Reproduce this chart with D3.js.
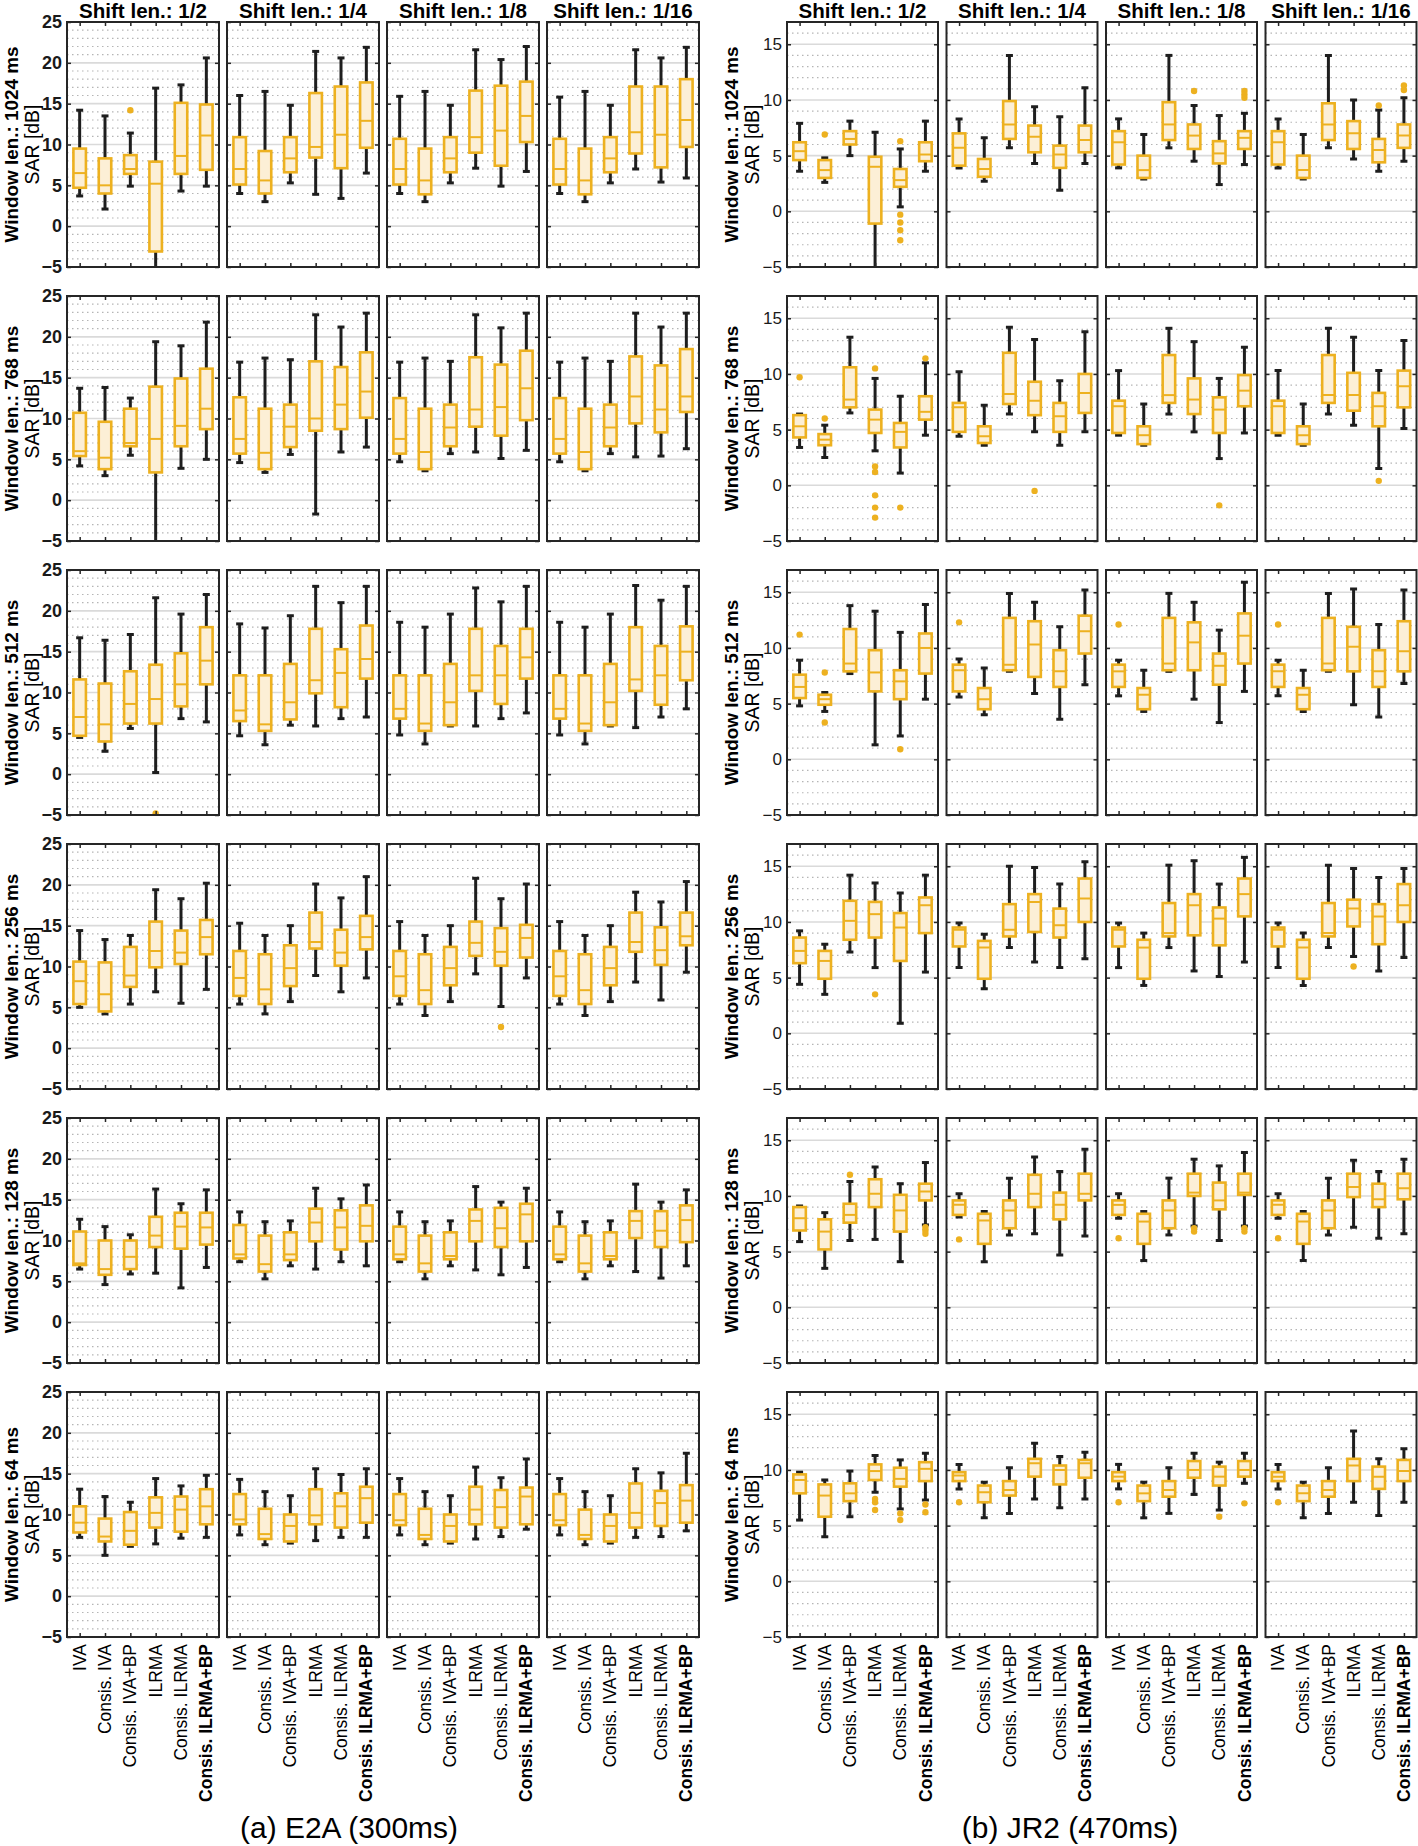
<!DOCTYPE html>
<html>
<head>
<meta charset="utf-8">
<script src="https://cdn.jsdelivr.net/npm/d3@7"></script>
<style>
  body { margin: 0; background: #fff; }
  svg { display: block; }
  text { font-family: "Liberation Sans", Arial, sans-serif; }
</style>
</head>
<body>
<div id="chart"></div>
<script>
const windowLens = ["1024", "768", "512", "256", "128", "64"];
const shiftLens = ["1/2", "1/4", "1/8", "1/16"];
const methods = ["IVA", "Consis. IVA", "Consis. IVA+BP", "ILRMA", "Consis. ILRMA", "Consis. ILRMA+BP"];
const captions = ["(a) E2A (300ms)", "(b) JR2 (470ms)"];
const yTicksE2A = [-5, 0, 5, 10, 15, 20, 25];
const yTicksJR2 = [-5, 0, 5, 10, 15];

// [lower whisker, q1, median, q3, upper whisker]; rows = window len., cols = shift len.
const e2aBoxes = [
  [
    [[3.7,4.7,6.5,9.5,14.2],[2.1,4.0,5.0,8.3,13.5],[4.9,6.4,7.0,8.7,11.4],[-6,-3.1,5.2,7.9,16.9],[4.3,6.4,8.6,15.1,17.3],[4.9,6.9,11.1,14.9,20.6]],
    [[4.0,5.1,7.0,10.9,16.0],[3.0,4.0,5.6,9.2,16.5],[5.3,6.6,8.3,10.9,14.8],[3.9,8.4,9.7,16.3,21.4],[3.4,7.1,11.2,17.1,20.6],[6.5,9.6,12.9,17.6,21.9]],
    [[4.0,5.1,7.0,10.7,15.9],[3.0,3.9,5.6,9.5,16.5],[5.3,6.6,8.3,10.9,14.8],[7.1,9.0,10.9,16.6,21.6],[4.9,7.4,11.7,17.2,20.4],[6.7,10.3,13.5,17.7,22.0]],
    [[4.0,5.1,7.0,10.7,15.8],[3.0,3.9,5.6,9.5,16.5],[5.3,6.6,8.3,10.9,14.8],[7.0,8.9,11.5,17.1,21.6],[5.4,7.2,11.2,17.1,20.6],[5.9,9.7,13.0,18.0,21.9]]
  ],
  [
    [[4.2,5.4,6.0,10.7,13.7],[3.0,3.8,5.2,9.6,13.8],[5.5,6.6,7.0,11.2,12.5],[-6,3.4,7.5,13.9,19.4],[3.9,6.6,9.1,14.9,18.9],[5.0,8.7,11.2,16.1,21.8]],
    [[4.6,5.7,7.5,12.6,16.9],[3.4,3.8,5.8,11.2,17.4],[5.6,6.5,9.0,11.7,17.2],[-1.7,8.5,10.0,17.0,22.7],[5.9,8.7,11.7,16.3,21.2],[6.5,10.1,13.3,18.1,22.9]],
    [[4.7,5.7,7.5,12.5,16.9],[3.6,3.8,5.9,11.2,17.4],[5.7,6.6,8.9,11.7,17.0],[5.9,9.0,11.1,17.5,22.7],[5.1,7.9,11.4,16.6,21.1],[6.1,9.8,13.7,18.3,22.9]],
    [[4.7,5.7,7.5,12.5,16.9],[3.6,3.8,5.9,11.2,17.4],[5.7,6.6,8.9,11.7,17.0],[5.3,9.4,12.7,17.6,22.9],[5.4,8.3,11.1,16.5,21.2],[6.3,10.8,12.7,18.5,22.9]]
  ],
  [
    [[4.5,4.7,7.0,11.6,16.7],[2.8,4.0,6.1,11.1,16.4],[5.6,6.2,8.6,12.6,17.1],[0.2,6.2,9.2,13.4,21.6],[6.8,8.3,11.0,14.8,19.6],[6.4,11.0,13.9,18.0,22.0]],
    [[4.7,6.5,7.8,12.1,18.4],[3.6,5.3,6.1,12.1,17.9],[6.0,6.7,8.8,13.5,19.4],[5.9,9.9,11.5,17.8,23.0],[6.8,8.2,12.4,15.3,21.0],[7.0,11.7,14.1,18.2,23.0]],
    [[4.8,6.8,8.0,12.1,18.6],[3.7,5.3,6.2,12.1,18.0],[5.9,6.0,8.8,13.5,19.6],[5.9,10.2,12.1,17.8,22.8],[6.8,8.6,12.1,15.7,21.1],[7.5,11.7,14.3,17.8,23.0]],
    [[4.8,6.8,8.0,12.1,18.6],[3.7,5.3,6.2,12.1,18.0],[5.9,6.0,8.8,13.5,19.6],[5.7,10.2,11.6,18.0,23.1],[7.0,8.5,12.1,15.7,21.3],[8.0,11.5,15.0,18.1,23.0]]
  ],
  [
    [[5.0,5.4,8.2,10.6,14.4],[4.2,4.5,6.6,10.5,13.3],[5.4,7.5,8.9,12.4,13.8],[6.9,9.9,11.9,15.5,19.4],[5.5,10.3,11.7,14.4,18.3],[7.2,11.5,13.6,15.7,20.2]],
    [[5.4,6.4,8.6,11.9,15.3],[4.2,5.4,7.2,11.5,13.8],[5.7,7.6,9.8,12.6,15.0],[8.9,12.2,13.0,16.6,20.1],[6.9,10.1,11.7,14.5,18.4],[8.6,12.1,13.6,16.2,21.0]],
    [[5.4,6.4,8.8,11.9,15.5],[4.0,5.4,7.1,11.5,13.8],[5.7,7.7,9.8,12.4,15.0],[9.1,11.3,12.9,15.5,20.8],[5.1,10.1,11.8,14.7,18.3],[8.6,11.1,13.5,15.1,20.1]],
    [[5.4,6.4,8.8,11.9,15.5],[4.0,5.4,7.1,11.5,13.8],[5.7,7.7,9.8,12.4,15.0],[8.1,11.8,13.0,16.6,19.1],[5.9,10.2,12.0,14.8,17.9],[9.3,12.6,13.7,16.6,20.4]]
  ],
  [
    [[6.5,7.0,7.2,11.1,12.6],[4.6,5.8,6.5,10.0,11.7],[5.9,6.5,8.0,10.0,10.7],[6.0,9.2,10.6,12.9,16.3],[4.2,9.0,11.7,13.4,14.5],[6.7,9.5,11.6,13.4,16.2]],
    [[7.4,7.8,8.3,11.9,13.5],[5.3,6.2,7.1,10.6,12.3],[6.9,7.6,8.3,11.0,12.4],[6.5,9.9,12.2,13.9,16.4],[7.4,8.9,11.6,13.7,15.1],[6.9,9.9,11.8,14.3,16.8]],
    [[7.4,7.7,8.3,11.7,13.5],[5.3,6.2,7.2,10.6,12.3],[6.9,7.7,8.1,11.0,12.4],[6.4,9.9,12.4,13.8,16.6],[5.8,9.2,11.5,14.0,14.7],[6.7,9.9,13.2,14.5,16.4]],
    [[7.4,7.7,8.3,11.7,13.5],[5.3,6.2,7.2,10.6,12.3],[6.9,7.7,8.1,11.0,12.4],[6.2,10.3,12.4,13.6,16.9],[5.4,9.2,11.2,13.6,14.7],[6.9,9.8,12.5,14.3,16.2]]
  ],
  [
    [[7.2,7.8,9.0,11.0,13.1],[5.0,6.7,7.3,9.5,12.2],[6.1,6.3,8.0,10.3,11.5],[6.4,8.4,10.2,12.1,14.4],[7.1,7.9,10.6,12.2,13.5],[7.2,8.8,11.0,13.1,14.8]],
    [[7.5,8.8,9.4,12.5,14.3],[6.3,7.0,7.6,10.7,12.8],[6.5,6.7,8.6,10.0,12.3],[6.8,8.8,9.9,13.1,15.6],[7.2,8.4,11.0,12.6,14.9],[7.2,9.0,12.0,13.4,15.6]],
    [[7.5,8.7,9.3,12.5,14.4],[6.3,7.0,7.5,10.7,12.8],[6.5,6.7,8.6,10.0,12.3],[7.0,8.8,10.6,13.4,15.8],[7.3,8.4,10.9,13.0,14.5],[8.2,8.8,12.2,13.3,16.8]],
    [[7.5,8.7,9.3,12.5,14.4],[6.3,7.0,7.5,10.6,12.8],[6.5,6.7,8.6,10.0,12.3],[7.2,8.4,10.2,13.8,15.6],[7.3,8.6,11.4,12.9,15.1],[8.0,9.0,11.7,13.6,17.5]]
  ]
];

const jr2Boxes = [
  [
    [[3.6,4.6,5.4,6.2,7.9],[2.6,3.0,3.7,4.6,4.8],[5.0,6.0,6.5,7.2,8.1],[-6,-1.1,4.0,4.9,7.1],[0.4,2.2,2.8,3.8,5.6],[3.6,4.5,5.1,6.2,8.1]],
    [[3.9,4.1,5.7,7.0,8.3],[2.7,3.1,3.8,4.7,6.6],[5.7,6.5,7.8,9.9,14.0],[4.3,5.3,6.7,7.7,9.4],[1.9,3.9,5.1,5.9,8.5],[4.3,5.3,6.4,7.7,11.1]],
    [[3.9,4.2,6.2,7.2,8.3],[2.9,3.0,3.7,5.0,6.9],[5.7,6.4,7.8,9.8,14.0],[4.5,5.6,6.8,7.8,9.5],[2.4,4.3,5.2,6.3,8.6],[4.2,5.6,6.6,7.2,8.8]],
    [[3.9,4.2,6.2,7.2,8.3],[2.9,3.0,3.7,5.0,6.9],[5.7,6.4,7.8,9.7,14.0],[4.7,5.6,7.0,8.1,10.0],[3.6,4.4,5.5,6.5,9.1],[4.5,5.7,6.8,7.8,10.2]]
  ],
  [
    [[3.4,4.3,5.3,6.3,6.4],[2.5,3.6,4.1,4.6,5.4],[6.5,7.0,7.7,10.6,13.3],[3.1,4.7,5.9,6.8,9.6],[1.1,3.4,4.8,5.6,8.0],[4.5,5.9,6.6,8.0,11.0]],
    [[4.4,4.8,7.0,7.4,10.2],[3.6,3.8,4.4,5.3,7.2],[6.4,7.3,8.2,11.9,14.2],[4.8,6.3,7.6,9.3,13.1],[3.6,4.8,6.2,7.4,9.4],[4.8,6.5,8.3,10.0,13.8]],
    [[4.5,4.7,7.1,7.6,10.3],[3.6,3.7,4.5,5.3,7.3],[6.4,7.4,8.1,11.7,14.1],[4.8,6.4,7.7,9.6,12.9],[2.4,4.7,6.8,7.9,9.6],[4.7,7.1,8.5,9.9,12.4]],
    [[4.5,4.7,7.1,7.6,10.3],[3.6,3.7,4.5,5.3,7.3],[6.4,7.4,8.1,11.7,14.1],[5.4,6.7,8.1,10.1,13.3],[1.5,5.3,7.1,8.3,10.3],[5.1,7.0,8.9,10.3,13.0]]
  ],
  [
    [[4.8,5.5,6.5,7.6,8.9],[4.3,4.9,5.4,5.8,6.0],[7.7,7.9,8.6,11.7,13.8],[1.3,6.1,7.8,9.8,13.3],[2.1,5.4,7.0,8.0,11.4],[5.4,7.7,10.0,11.3,13.9]],
    [[5.6,6.1,8.0,8.5,9.0],[4.0,4.5,5.4,6.4,8.2],[7.9,8.0,8.5,12.7,14.9],[5.9,7.4,10.3,12.4,14.1],[3.6,6.5,7.9,9.8,11.9],[6.7,9.5,11.5,12.9,15.2]],
    [[5.7,6.5,7.9,8.5,8.9],[4.3,4.5,5.8,6.4,8.0],[7.9,8.0,8.6,12.7,14.9],[5.4,8.0,10.5,12.3,14.1],[3.3,6.7,8.4,9.5,11.6],[6.1,8.6,11.1,13.1,15.9]],
    [[5.7,6.5,7.9,8.5,8.9],[4.3,4.5,5.8,6.4,8.0],[7.9,8.0,8.6,12.7,14.9],[4.9,7.9,10.1,11.9,15.3],[3.8,6.5,7.9,9.8,12.1],[6.8,7.9,9.7,12.4,15.2]]
  ],
  [
    [[4.4,6.3,7.4,8.6,9.2],[3.5,4.9,6.5,7.4,8.0],[7.3,8.4,10.1,11.9,14.2],[5.9,8.6,10.7,11.8,13.5],[0.9,6.5,9.5,10.8,12.6],[5.5,9.0,11.5,12.2,14.2]],
    [[5.9,7.8,9.3,9.5,9.9],[4.0,4.9,7.7,8.3,8.9],[7.7,8.7,9.3,11.6,15.0],[6.4,9.1,11.8,12.5,14.9],[5.9,8.6,9.7,11.2,13.4],[6.7,10.0,12.1,13.9,15.4]],
    [[5.9,7.8,9.3,9.5,9.9],[4.3,4.9,7.7,8.4,9.0],[7.7,8.7,9.0,11.7,15.1],[5.6,8.8,11.5,12.5,15.5],[5.1,7.9,10.3,11.3,13.4],[6.4,10.5,12.5,13.9,15.8]],
    [[5.9,7.8,9.3,9.5,9.9],[4.3,4.9,7.7,8.4,9.0],[7.7,8.7,9.0,11.7,15.1],[6.9,9.6,11.2,12.0,14.8],[5.6,8.0,10.5,11.6,14.0],[6.8,10.0,11.5,13.4,14.8]]
  ],
  [
    [[5.9,6.9,8.0,9.0,9.1],[3.5,5.2,6.8,7.9,8.5],[6.0,7.6,8.3,9.3,11.3],[6.1,9.0,10.2,11.5,12.6],[4.1,6.8,8.7,10.1,11.1],[7.4,9.6,10.4,11.1,13.0]],
    [[8.1,8.3,9.2,9.6,10.2],[4.1,5.7,7.8,8.4,8.6],[6.5,7.1,8.7,9.6,11.6],[6.6,9.0,10.2,11.9,13.5],[4.7,7.9,9.2,10.3,12.2],[6.4,9.6,10.2,12.0,14.2]],
    [[8.0,8.3,9.2,9.6,10.2],[4.2,5.7,7.7,8.4,8.6],[6.5,7.1,8.7,9.6,11.6],[7.3,10.0,10.3,12.0,13.3],[6.0,8.8,9.6,11.2,12.7],[7.3,10.1,10.3,12.0,13.9]],
    [[8.0,8.3,9.2,9.6,10.2],[4.2,5.7,7.7,8.4,8.6],[6.5,7.1,8.7,9.6,11.6],[7.2,9.9,10.8,12.0,13.2],[6.2,9.0,9.7,11.1,12.2],[6.6,9.7,10.7,12.0,13.3]]
  ],
  [
    [[5.5,7.9,9.1,9.6,9.8],[4.0,5.8,7.7,8.7,9.1],[5.8,7.2,7.9,8.8,9.9],[8.0,9.1,9.9,10.5,11.3],[6.5,8.5,9.2,10.2,10.9],[7.3,9.0,10.1,10.7,11.5]],
    [[8.3,9.0,9.5,9.8,10.5],[5.7,7.1,8.0,8.6,8.9],[6.1,7.7,8.2,9.0,10.2],[7.4,9.4,10.6,11.0,12.4],[6.6,8.7,10.0,10.4,11.2],[7.4,9.3,10.6,10.9,11.6]],
    [[8.3,9.0,9.4,9.8,10.5],[5.7,7.2,7.9,8.6,8.9],[6.1,7.6,8.2,9.0,10.2],[7.8,9.3,10.0,10.8,11.5],[6.4,8.6,9.4,10.3,10.7],[8.8,9.4,10.0,10.8,11.5]],
    [[8.3,9.0,9.4,9.8,10.5],[5.7,7.2,7.9,8.6,8.9],[6.1,7.6,8.2,9.0,10.2],[7.1,9.0,10.4,11.0,13.5],[5.9,8.3,9.4,10.3,11.0],[7.1,9.0,9.9,10.9,11.9]]
  ]
];

// [row, col, method, value]
const e2aOutliers = [
  [0,0,2,14.2], [2,0,3,-4.8], [3,2,4,2.6]
];
const jr2Outliers = [
  [0,0,1,6.9], [0,0,4,6.3], [0,0,4,-0.3], [0,0,4,-1.0], [0,0,4,-1.7], [0,0,4,-2.6],
  [0,2,3,10.8], [0,2,5,10.8], [0,2,5,10.5], [0,2,5,10.2],
  [0,3,4,9.5], [0,3,5,11.3], [0,3,5,10.9],
  [1,0,0,9.7], [1,0,1,6.0], [1,0,3,10.5], [1,0,3,1.7], [1,0,3,1.2], [1,0,3,-0.9], [1,0,3,-2.0], [1,0,3,-2.9],
  [1,0,4,-2.0], [1,0,5,11.4], [1,1,3,-0.5], [1,2,4,-1.8], [1,3,4,0.4],
  [2,0,0,11.2], [2,0,1,7.8], [2,0,1,3.3], [2,0,4,0.9], [2,1,0,12.3], [2,2,0,12.1], [2,3,0,12.1],
  [3,0,3,3.5], [3,3,3,6.0],
  [4,0,2,11.9], [4,0,5,7.2], [4,0,5,6.9], [4,0,5,6.6], [4,1,0,6.1], [4,2,0,6.2],
  [4,2,3,7.1], [4,2,3,6.8], [4,2,5,7.1], [4,2,5,6.8], [4,3,0,6.2],
  [5,0,3,7.4], [5,0,3,7.1], [5,0,3,6.4], [5,0,4,6.1], [5,0,4,5.5], [5,0,5,6.9], [5,0,5,6.2],
  [5,1,0,7.1], [5,2,0,7.1], [5,2,4,5.8], [5,2,5,7.0], [5,3,0,7.1]
];

const orange = "#edb120", boxFill = "#fcefd6", dark = "#262626";
const rowTop = 22, rowPitch = 274, panelH = 245;
const boxW = 12.5, capW = 7;

const groups = [
  { boxes: e2aBoxes, outliers: e2aOutliers, ticks: yTicksE2A, yMax: 25, x0: 67, pitch: 160, w: 152,
    labelX: [18, 39], tickWeight: "bold", caption: captions[0], captionX: 349 },
  { boxes: jr2Boxes, outliers: jr2Outliers, ticks: yTicksJR2, yMax: 17, x0: 787, pitch: 159.5, w: 151,
    labelX: [738, 759], tickWeight: "normal", caption: captions[1], captionX: 1070 }
];

const svg = d3.select("#chart").append("svg")
  .attr("width", 1418).attr("height", 1846);

// size fonts so that texts get the widths measured on the reference
const probe = svg.append("text").attr("x", -2000).attr("y", -2000);
function fitSize(str, weight, target) {
  probe.attr("font-size", 100).attr("font-weight", weight).text(str);
  return 100 * target / probe.node().getComputedTextLength();
}
const titleSize = fitSize("Shift len.: 1/2", "bold", 128);
const winSize = fitSize("Window len.: 1024 ms", "bold", 196);
const sarSize = fitSize("SAR [dB]", "normal", 80);
const xlabSize = fitSize("Consis. ILRMA+BP", "bold", 158);
const capSize = fitSize(captions[0], "normal", 218);
const tickSizes = [fitSize("25", "bold", 20), fitSize("15", "normal", 19)];
probe.remove();

groups.forEach((g, gi) => {
  const y = d3.scaleLinear().domain([-5, g.yMax]).range([panelH, 0]);
  const x = d3.scalePoint().domain(methods).range([0, g.w]).padding(0.5);
  const clipId = "clip" + gi;
  svg.append("clipPath").attr("id", clipId)
    .append("rect").attr("width", g.w).attr("height", panelH);

  const minor = d3.range(-4, g.yMax).filter(v => v % 5 !== 0);
  const major = g.ticks.filter(v => v > -5 && v < g.yMax);

  windowLens.forEach((wl, r) => {
    const top = rowTop + r * rowPitch;

    svg.append("text")
      .attr("transform", `translate(${g.labelX[0]},${top + panelH / 2}) rotate(-90)`)
      .attr("text-anchor", "middle").attr("font-size", winSize).attr("font-weight", "bold")
      .text(`Window len.: ${wl} ms`);
    svg.append("text")
      .attr("transform", `translate(${g.labelX[1]},${top + panelH / 2}) rotate(-90)`)
      .attr("text-anchor", "middle").attr("font-size", sarSize)
      .text("SAR [dB]");

    shiftLens.forEach((sl, c) => {
      const p = svg.append("g")
        .attr("transform", `translate(${g.x0 + c * g.pitch},${top})`);

      p.selectAll("line.minor").data(minor).join("line")
        .attr("class", "minor")
        .attr("x1", 0).attr("x2", g.w)
        .attr("y1", d => y(d)).attr("y2", d => y(d))
        .attr("stroke", "#b5b5b5").attr("stroke-width", 1.2)
        .attr("stroke-dasharray", "1.5,3.5");
      p.selectAll("line.major").data(major).join("line")
        .attr("class", "major")
        .attr("x1", 0).attr("x2", g.w)
        .attr("y1", d => y(d)).attr("y2", d => y(d))
        .attr("stroke", "#dadada").attr("stroke-width", 1.6);

      const stats = methods.map((m, i) => ({ m, s: g.boxes[r][c][i] }));
      const plot = p.append("g").attr("clip-path", `url(#${clipId})`);

      // whiskers + caps
      plot.selectAll("line.wh").data(stats).join("line")
        .attr("class", "wh")
        .attr("x1", d => x(d.m)).attr("x2", d => x(d.m))
        .attr("y1", d => y(d.s[0])).attr("y2", d => y(d.s[4]))
        .attr("stroke", "#1e1e1e").attr("stroke-width", 3);
      plot.selectAll("line.caplo").data(stats).join("line")
        .attr("class", "caplo")
        .attr("x1", d => x(d.m) - capW / 2).attr("x2", d => x(d.m) + capW / 2)
        .attr("y1", d => y(d.s[0])).attr("y2", d => y(d.s[0]))
        .attr("stroke", "#1e1e1e").attr("stroke-width", 3);
      plot.selectAll("line.caphi").data(stats).join("line")
        .attr("class", "caphi")
        .attr("x1", d => x(d.m) - capW / 2).attr("x2", d => x(d.m) + capW / 2)
        .attr("y1", d => y(d.s[4])).attr("y2", d => y(d.s[4]))
        .attr("stroke", "#1e1e1e").attr("stroke-width", 3);

      // boxes
      plot.selectAll("rect.box").data(stats).join("rect")
        .attr("class", "box")
        .attr("x", d => x(d.m) - boxW / 2).attr("width", boxW)
        .attr("y", d => y(d.s[3])).attr("height", d => y(d.s[1]) - y(d.s[3]))
        .attr("fill", boxFill).attr("stroke", orange).attr("stroke-width", 2.6);
      plot.selectAll("line.med").data(stats).join("line")
        .attr("class", "med")
        .attr("x1", d => x(d.m) - boxW / 2).attr("x2", d => x(d.m) + boxW / 2)
        .attr("y1", d => y(d.s[2])).attr("y2", d => y(d.s[2]))
        .attr("stroke", orange).attr("stroke-width", 2);

      // outliers
      const outs = g.outliers.filter(o => o[0] === r && o[1] === c);
      plot.selectAll("circle.out").data(outs).join("circle")
        .attr("class", "out")
        .attr("cx", d => x(methods[d[2]])).attr("cy", d => y(d[3]))
        .attr("r", 3.2).attr("fill", orange);

      // inner ticks
      const yl = p.append("g")
        .call(d3.axisLeft(y).tickValues(g.ticks).tickSize(-4).tickPadding(5)
          .tickFormat(c === 0 ? d3.format("d") : ""));
      yl.attr("font-family", null).attr("font-size", tickSizes[gi]).attr("font-weight", g.tickWeight);
      p.append("g").attr("transform", `translate(${g.w},0)`)
        .call(d3.axisRight(y).tickValues(g.ticks).tickSize(-4).tickFormat(""));
      p.append("g")
        .call(d3.axisTop(x).tickSize(-4).tickFormat(""));
      p.append("g").attr("transform", `translate(0,${panelH})`)
        .call(d3.axisBottom(x).tickSize(-4).tickFormat(""));
      p.selectAll(".domain").remove();
      p.selectAll(".tick line").attr("stroke", dark).attr("stroke-width", 1.5);
      p.selectAll(".tick text").attr("fill", "#1a1a1a");

      p.append("rect")
        .attr("width", g.w).attr("height", panelH)
        .attr("fill", "none").attr("stroke", dark).attr("stroke-width", 2);

      if (r === 0) {
        p.append("text")
          .attr("x", g.w / 2).attr("y", -4)
          .attr("text-anchor", "middle").attr("font-size", titleSize).attr("font-weight", "bold")
          .text(`Shift len.: ${sl}`);
      }

      if (r === windowLens.length - 1) {
        p.selectAll("text.xlab").data(methods).join("text")
          .attr("class", "xlab")
          .attr("transform", d => `translate(${x(d)},${panelH + 7}) rotate(-90)`)
          .attr("dy", "0.35em")
          .attr("text-anchor", "end").attr("font-size", xlabSize)
          .attr("font-weight", (d, i) => i === methods.length - 1 ? "bold" : "normal")
          .text(d => d);
      }
    });
  });

  svg.append("text")
    .attr("x", g.captionX).attr("y", 1838)
    .attr("text-anchor", "middle").attr("font-size", capSize)
    .text(g.caption);
});
</script>
</body>
</html>
